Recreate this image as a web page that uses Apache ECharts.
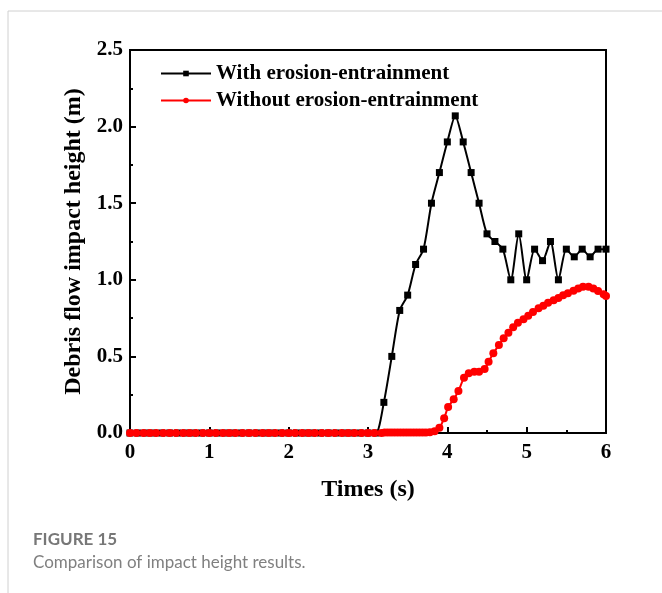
<!DOCTYPE html>
<html>
<head>
<meta charset="utf-8">
<script src="https://cdn.jsdelivr.net/npm/echarts@6/dist/echarts.min.js"></script>
<style>
  html, body { margin: 0; padding: 0; background: #fff; }
  #chart { width: 662px; height: 593px; }
</style>
</head>
<body>
<div id="chart"></div>
<script>
// with erosion-entrainment, one point every 0.1 s
const blackT = [0, 0.1, 0.2, 0.3, 0.4, 0.5, 0.6, 0.7, 0.8, 0.9, 1, 1.1, 1.2, 1.3, 1.4, 1.5, 1.6, 1.7, 1.8, 1.9,
  2, 2.1, 2.2, 2.3, 2.4, 2.5, 2.6, 2.7, 2.8, 2.9, 3, 3.1, 3.2, 3.3, 3.4, 3.5, 3.6, 3.7, 3.8, 3.9,
  4, 4.1, 4.2, 4.3, 4.4, 4.5, 4.6, 4.7, 4.8, 4.9, 5, 5.1, 5.2, 5.3, 5.4, 5.5, 5.6, 5.7, 5.8, 5.9, 6];
const blackH = [0, 0, 0, 0, 0, 0, 0, 0, 0, 0, 0, 0, 0, 0, 0, 0, 0, 0, 0, 0,
  0, 0, 0, 0, 0, 0, 0, 0, 0, 0, 0, 0, 0.2, 0.5, 0.8, 0.9, 1.1, 1.2, 1.5, 1.7,
  1.9, 2.07, 1.9, 1.7, 1.5, 1.3, 1.25, 1.2, 1.0, 1.3, 1.0, 1.2, 1.125, 1.25, 1.0, 1.2, 1.15, 1.2, 1.15, 1.2, 1.2];

// without erosion-entrainment
const redT = [0, 0.08, 0.17, 0.25, 0.33, 0.42, 0.5, 0.58, 0.67, 0.75, 0.83, 0.92, 1, 1.08, 1.17, 1.25, 1.33, 1.42, 1.5, 1.58,
  1.67, 1.75, 1.83, 1.92, 2, 2.08, 2.17, 2.25, 2.33, 2.42, 2.5, 2.58, 2.67, 2.75, 2.83, 2.92, 3, 3.08, 3.17,
  3.21, 3.25, 3.29, 3.33, 3.37, 3.41, 3.45, 3.49, 3.53, 3.57, 3.61, 3.65, 3.69, 3.73, 3.78, 3.84,
  3.9, 3.96, 4.01, 4.08, 4.14, 4.21, 4.27, 4.34, 4.4, 4.47, 4.52, 4.58, 4.65, 4.71, 4.77, 4.83, 4.89, 4.96,
  5.02, 5.08, 5.15, 5.21, 5.27, 5.34, 5.4, 5.46, 5.52, 5.59, 5.65, 5.71, 5.78, 5.84, 5.9, 5.97, 6];
const redH = [0, 0, 0, 0, 0, 0, 0, 0, 0, 0, 0, 0, 0, 0, 0, 0, 0, 0, 0, 0,
  0, 0, 0, 0, 0, 0, 0, 0, 0, 0, 0, 0, 0, 0, 0, 0, 0, 0, 0,
  0.003, 0.003, 0.004, 0.004, 0.004, 0.004, 0.004, 0.004, 0.004, 0.004, 0.004, 0.004, 0.004, 0.004, 0.005, 0.012,
  0.035, 0.096, 0.17, 0.22, 0.274, 0.36, 0.39, 0.4, 0.4, 0.418, 0.465, 0.52, 0.574, 0.618, 0.655, 0.69, 0.72, 0.742,
  0.766, 0.79, 0.814, 0.831, 0.85, 0.866, 0.881, 0.899, 0.912, 0.929, 0.944, 0.955, 0.955, 0.944, 0.927, 0.905, 0.895];

const seriesNames = ['With erosion-entrainment', 'Without erosion-entrainment'];
const serif = 'Liberation Serif';

const pairs = (t, h) => t.map((x, i) => [x, h[i]]);

const chart = echarts.init(document.getElementById('chart'));
chart.setOption({
  animation: false,
  grid: {
    left: 130, right: 56, top: 50, bottom: 160,
    show: true, borderColor: '#000', borderWidth: 2
  },
  legend: {
    left: 155, top: 58, orient: 'vertical', itemGap: 6,
    itemWidth: 50, itemHeight: 7,
    textStyle: { fontFamily: serif, fontWeight: 'bold', fontSize: 21, color: '#000' },
    data: seriesNames
  },
  xAxis: {
    type: 'value', min: 0, max: 6, interval: 1,
    name: 'Times (s)', nameLocation: 'middle', nameGap: 45,
    nameTextStyle: { fontFamily: serif, fontWeight: 'bold', fontSize: 24, color: '#000' },
    axisLine: { lineStyle: { color: '#000', width: 2 } },
    axisTick: { inside: true, length: 6, lineStyle: { color: '#000', width: 2 } },
    minorTick: { show: true, splitNumber: 2, length: 3, lineStyle: { color: '#000', width: 2 } },
    axisLabel: { fontFamily: serif, fontWeight: 'bold', fontSize: 21, color: '#000', margin: 9 },
    splitLine: { show: false }
  },
  yAxis: {
    type: 'value', min: 0, max: 2.5, interval: 0.5,
    name: 'Debris flow impact height (m)', nameLocation: 'middle', nameGap: 40,
    nameTextStyle: { fontFamily: serif, fontWeight: 'bold', fontSize: 24, color: '#000' },
    axisLine: { lineStyle: { color: '#000', width: 2 } },
    axisTick: { inside: true, length: 6, lineStyle: { color: '#000', width: 2 } },
    minorTick: { show: true, splitNumber: 2, length: 3, lineStyle: { color: '#000', width: 2 } },
    axisLabel: {
      fontFamily: serif, fontWeight: 'bold', fontSize: 21, color: '#000', margin: 7,
      formatter: v => v.toFixed(1)
    },
    splitLine: { show: false }
  },
  series: [
    {
      name: seriesNames[0], type: 'line', data: pairs(blackT, blackH),
      smooth: 0.25, symbol: 'rect', symbolSize: 7, showAllSymbol: true,
      lineStyle: { color: '#000', width: 2 }, itemStyle: { color: '#000' }
    },
    {
      name: seriesNames[1], type: 'line', data: pairs(redT, redH),
      smooth: 0.25, symbol: 'circle', symbolSize: 8, showAllSymbol: true,
      lineStyle: { color: '#ff0000', width: 2 }, itemStyle: { color: '#ff0000' }
    }
  ],
  graphic: [
    { type: 'line', shape: { x1: 8, y1: 11, x2: 662, y2: 11 }, style: { stroke: '#d0d0d0', lineWidth: 1 } },
    { type: 'line', shape: { x1: 8, y1: 11, x2: 8, y2: 593 }, style: { stroke: '#d0d0d0', lineWidth: 1 } },
    {
      type: 'text', left: 33, top: 531,
      style: { text: 'FIGURE 15', font: 'bold 17px Lato', fill: '#777' }
    },
    {
      type: 'text', left: 33, top: 554,
      style: { text: 'Comparison of impact height results.', font: '17px Lato', fill: '#808080' }
    }
  ]
});
</script>
</body>
</html>
